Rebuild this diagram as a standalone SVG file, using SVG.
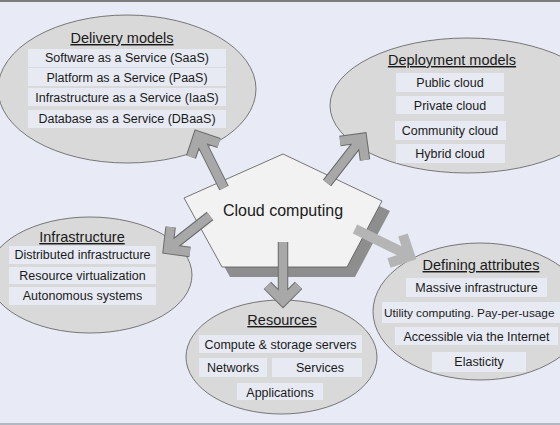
<svg xmlns="http://www.w3.org/2000/svg" width="560" height="425" viewBox="0 0 560 425">
<style>
text{font-family:"Liberation Sans",Arial,sans-serif;fill:#1a1a1a;text-anchor:middle}
.t{font-size:14.5px;text-decoration:underline}
.i{font-size:12.5px}
.ell{fill:#d9d9d9;stroke:#5a5a5a;stroke-width:0.8}
.box{fill:#e7eaf3}
.ao{fill:none;stroke:#6b6b6b;stroke-width:10.5;stroke-linejoin:miter;stroke-linecap:butt}
.ai{fill:none;stroke:#a8a8a8;stroke-width:8.5;stroke-linejoin:miter;stroke-linecap:butt}
.al{fill:none;stroke:#b5b5b5;stroke-width:10;stroke-linejoin:miter;stroke-linecap:butt}
</style>
<rect width="560" height="425" fill="#e8ebf5"/>
<rect width="560" height="2" fill="#7d7d7d"/>
<rect y="423" width="560" height="2" fill="#b3b7bf"/>

<g id="delivery">
<ellipse class="ell" cx="127" cy="89" rx="129" ry="74"/>
<text class="t" x="122" y="43">Delivery models</text>
<rect class="box" x="28" y="49" width="198" height="18"/>
<text class="i" x="127" y="62">Software as a Service (SaaS)</text>
<rect class="box" x="28" y="68" width="198" height="18"/>
<text class="i" x="127" y="81.5">Platform as a Service (PaaS)</text>
<rect class="box" x="28" y="88" width="198" height="18"/>
<text class="i" x="127" y="101.5">Infrastructure as a Service (IaaS)</text>
<rect class="box" x="28" y="110" width="198" height="18"/>
<text class="i" x="127" y="122.5">Database as a Service (DBaaS)</text>
</g>

<g id="deployment">
<ellipse class="ell" cx="467" cy="105.5" rx="137" ry="67.5"/>
<text class="t" x="452" y="65">Deployment models</text>
<rect class="box" x="396" y="73" width="108" height="19"/>
<text class="i" x="450" y="86.5">Public cloud</text>
<rect class="box" x="396" y="96" width="108" height="18"/>
<text class="i" x="450" y="109.5">Private cloud</text>
<rect class="box" x="395" y="121" width="111" height="19"/>
<text class="i" x="450" y="134.5">Community cloud</text>
<rect class="box" x="396" y="144" width="109" height="19"/>
<text class="i" x="450" y="157.5">Hybrid cloud</text>
</g>

<g id="infrastructure">
<ellipse class="ell" cx="90" cy="275" rx="102" ry="58"/>
<text class="t" x="82" y="242">Infrastructure</text>
<rect class="box" x="9" y="246" width="147" height="18"/>
<text class="i" x="82.5" y="258.5">Distributed infrastructure</text>
<rect class="box" x="9" y="267" width="147" height="17"/>
<text class="i" x="82.5" y="279.5">Resource virtualization</text>
<rect class="box" x="9" y="287" width="147" height="18"/>
<text class="i" x="82.5" y="299.5">Autonomous systems</text>
</g>

<g id="resources">
<ellipse class="ell" cx="281.5" cy="357" rx="95.5" ry="57"/>
<text class="t" x="282" y="325">Resources</text>
<rect class="box" x="199" y="335" width="163" height="18"/>
<text class="i" x="280.5" y="348.5">Compute &amp; storage servers</text>
<rect class="box" x="199" y="358" width="68" height="19"/>
<text class="i" x="233" y="371.5">Networks</text>
<rect class="box" x="272" y="358" width="90" height="19"/>
<text class="i" x="320" y="371.5">Services</text>
<rect class="box" x="237" y="383" width="86" height="17"/>
<text class="i" x="280" y="396.5">Applications</text>
</g>

<g id="attributes">
<ellipse class="ell" cx="480" cy="311.5" rx="107" ry="68.5"/>
<text class="t" x="481" y="270">Defining attributes</text>
<rect class="box" x="406" y="278" width="141" height="19"/>
<text class="i" x="476.5" y="291.5">Massive infrastructure</text>
<rect class="box" x="382" y="302" width="178" height="21"/>
<text x="384" y="317" style="text-anchor:start;font-size:11.8px">Utility computing. Pay-per-usage</text>
<rect class="box" x="395" y="327" width="163" height="18"/>
<text class="i" x="476.5" y="340.5">Accessible via the Internet</text>
<rect class="box" x="432" y="352" width="94" height="20"/>
<text class="i" x="479" y="366">Elasticity</text>
</g>

<g id="cloud">
<polygon points="291,164 192,208 230,277 355,277 390,211" fill="#8e8e8e"/>
<polygon points="283,154 184,198 222,267 347,267 382,201" fill="#f2f2f2" stroke="#555" stroke-width="0.8"/>
<text x="283" y="216" style="font-size:16px">Cloud computing</text>
</g>

<g id="connectors">
<path class="al" d="M355,229 L410,256 M403,235 L410,256 L389,263"/>
<path class="ao" d="M224,188 L198,136 M191,157 L198,136 L219,143"/>
<path class="ai" d="M224,188 L198,136 M191,157 L198,136 L219,143"/>
<path class="ao" d="M327,183 L362,138 M340,141 L362,138 L365,160"/>
<path class="ai" d="M327,183 L362,138 M340,141 L362,138 L365,160"/>
<path class="ao" d="M210,216 L168,249 M190,252 L168,249 L170.6,227"/>
<path class="ai" d="M210,216 L168,249 M190,252 L168,249 L170.6,227"/>
<path class="ao" d="M283,242 L283,301 M267.4,285.4 L283,301 L298.6,285.4"/>
<path class="ai" d="M283,242 L283,301 M267.4,285.4 L283,301 L298.6,285.4"/>
</g>
</svg>
